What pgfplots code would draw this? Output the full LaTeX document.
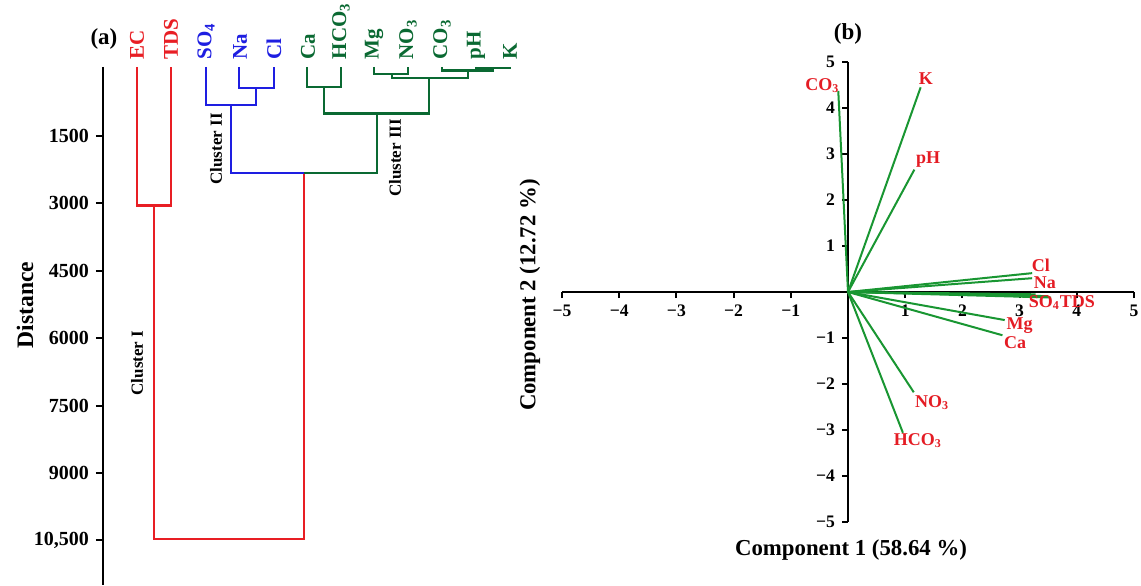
\documentclass[border=0pt]{standalone}
\usepackage{fontspec}
\setmainfont{Liberation Serif}
\usepackage{pgfplots}
\pgfplotsset{compat=1.18}
\definecolor{dred}{RGB}{232,30,36}
\definecolor{dblue}{RGB}{30,30,225}
\definecolor{dgreen}{RGB}{10,105,50}
\definecolor{vgreen}{RGB}{25,150,50}
\definecolor{lred}{RGB}{228,28,36}
\newcommand{\fs}[1]{\fontsize{#1}{#1}\selectfont\bfseries}
\begin{document}
\begin{tikzpicture}
\path[use as bounding box] (0,0) rectangle (570.5pt,292.5pt);
% ---------------- panel (a) ----------------
\begin{axis}[
  at={(51.5pt,0pt)}, anchor=south west,
  scale only axis, width=208.5pt, height=259.1pt,
  xmin=103, xmax=520, ymin=-40, ymax=11495,
  y dir=reverse, clip=false,
  axis x line=none, axis y line*=left,
  axis line style={line width=1.2pt,-},
  scaled y ticks=false,
  ytick={1500,3000,4500,6000,7500,9000,10500},
  yticklabels={1500,3000,4500,6000,7500,9000,{10,500}},
  tick align=outside, major tick length=3.5pt,
  tick style={line width=1pt,black},
  yticklabel style={font=\fs{10}},
]
% cluster I (red)
\addplot[dred,line width=1.2pt] coordinates {(137,-40) (137,3050) (171,3050) (171,-40)};
\addplot[dred,line width=1.2pt] coordinates {(154,3050) (154,10475) (304,10475) (304,2324)};
% cluster II (blue)
\addplot[dblue,line width=1.2pt] coordinates {(239,-40) (239,432) (274,432) (274,-40)};
\addplot[dblue,line width=1.2pt] coordinates {(206,-40) (206,810) (256,810) (256,432)};
\addplot[dblue,line width=1.2pt] coordinates {(231,810) (231,2324) (304,2324)};
% cluster III (green)
\addplot[dgreen,line width=1.2pt] coordinates {(304,2324) (377,2324) (377,1000)};
\addplot[dgreen,line width=1.2pt] coordinates {(307,-40) (307,410) (341,410) (341,-40)};
\addplot[dgreen,line width=1.2pt] coordinates {(324,410) (324,1000) (429,1000) (429,209)};
\addplot[dgreen,line width=1.2pt] coordinates {(374,-40) (374,120) (408,120) (408,-40)};
\addplot[dgreen,line width=1.2pt] coordinates {(392,120) (392,209) (468,209) (468,40)};
\addplot[dgreen,line width=1.2pt] coordinates {(442,-40) (442,40) (493,40) (493,-10)};
\addplot[dgreen,line width=1.2pt] coordinates {(476,-40) (476,-10) (510,-10) (510,-40)};
% leaf labels
\foreach \xx/\lab/\col in {137/EC/dred,171/TDS/dred,206/SO\textsubscript{4}/dblue,240/Na/dblue,274/Cl/dblue,308/Ca/dgreen,341/HCO\textsubscript{3}/dgreen,374/Mg/dgreen,408/NO\textsubscript{3}/dgreen,442/CO\textsubscript{3}/dgreen,476/pH/dgreen,510/K/dgreen}{
  \edef\temp{\noexpand\node[rotate=90,anchor=west,inner sep=0pt,text=\col,font=\noexpand\fs{10.5}] at (axis cs:\xx,-200) {\unexpanded\expandafter{\lab}};}
  \temp
}
\node[rotate=90,font=\fs{8.5}] at (axis cs:137,6553) {Cluster I};
\node[rotate=90,font=\fs{8.5}] at (axis cs:216,1790) {Cluster II};
\node[rotate=90,font=\fs{8.5}] at (axis cs:395,1990) {Cluster III};
\node[font=\fs{11.5}] at (axis cs:104,-660) {(a)};
\end{axis}
\node[rotate=90,font=\fs{11.8}] at (12.5pt,140pt) {Distance};
% ---------------- panel (b) ----------------
\begin{axis}[
  at={(281pt,31.5pt)}, anchor=south west,
  scale only axis, width=286pt, height=230pt,
  xmin=-5, xmax=5, ymin=-5, ymax=5,
  axis lines=middle, clip=false,
  axis line style={line width=1.2pt,-},
  xtick={-5,-4,-3,-2,-1,1,2,3,4,5},
  xticklabels={−5,−4,−3,−2,−1,1,2,3,4,5},
  ytick={-5,-4,-3,-2,-1,1,2,3,4,5},
  yticklabels={−5,−4,−3,−2,−1,1,2,3,4,5},
  tick align=outside, major tick length=3pt,
  tick style={line width=1pt,black},
  ticklabel style={font=\fs{8.8}},
]
\addplot[vgreen,line width=1pt] coordinates {(0,0) (-0.17,4.37)};
\addplot[vgreen,line width=1pt] coordinates {(0,0) (1.27,4.45)};
\addplot[vgreen,line width=1pt] coordinates {(0,0) (1.16,2.66)};
\addplot[vgreen,line width=1pt] coordinates {(0,0) (3.22,0.41)};
\addplot[vgreen,line width=1pt] coordinates {(0,0) (3.22,0.30)};
\addplot[vgreen,line width=1pt] coordinates {(0,0) (3.28,-0.05)};
\addplot[vgreen,line width=1pt] coordinates {(0,0) (3.50,-0.09)};
\addplot[vgreen,line width=1pt] coordinates {(0,0) (3.55,-0.12)};
\addplot[vgreen,line width=1pt] coordinates {(0,0) (2.74,-0.61)};
\addplot[vgreen,line width=1pt] coordinates {(0,0) (2.70,-0.94)};
\addplot[vgreen,line width=1pt] coordinates {(0,0) (1.15,-2.18)};
\addplot[vgreen,line width=1pt] coordinates {(0,0) (0.96,-3.06)};
\begin{scope}[every node/.style={text=lred,font=\fs{9}},inner sep=0pt]
\node at (axis cs:-0.45,4.48) {CO\textsubscript{3}};
\node at (axis cs:1.36,4.65) {K};
\node at (axis cs:1.40,2.87) {pH};
\node at (axis cs:3.37,0.59) {Cl};
\node at (axis cs:3.44,0.20) {Na};
\node at (axis cs:3.74,-0.23) {SO\textsubscript{4}TDS};
\node at (axis cs:3.00,-0.73) {Mg};
\node at (axis cs:2.92,-1.09) {Ca};
\node at (axis cs:1.47,-2.41) {NO\textsubscript{3}};
\node at (axis cs:1.22,-3.22) {HCO\textsubscript{3}};
\end{scope}
\node[font=\fs{11.5}] at (axis cs:0,5.6) {(b)};
\end{axis}
\node[font=\fs{11.4}] at (425.5pt,17.5pt) {Component 1 (58.64 \%)};
\node[rotate=90,font=\fs{11.4}] at (265pt,145pt) {Component 2 (12.72 \%)};
\end{tikzpicture}
\end{document}
